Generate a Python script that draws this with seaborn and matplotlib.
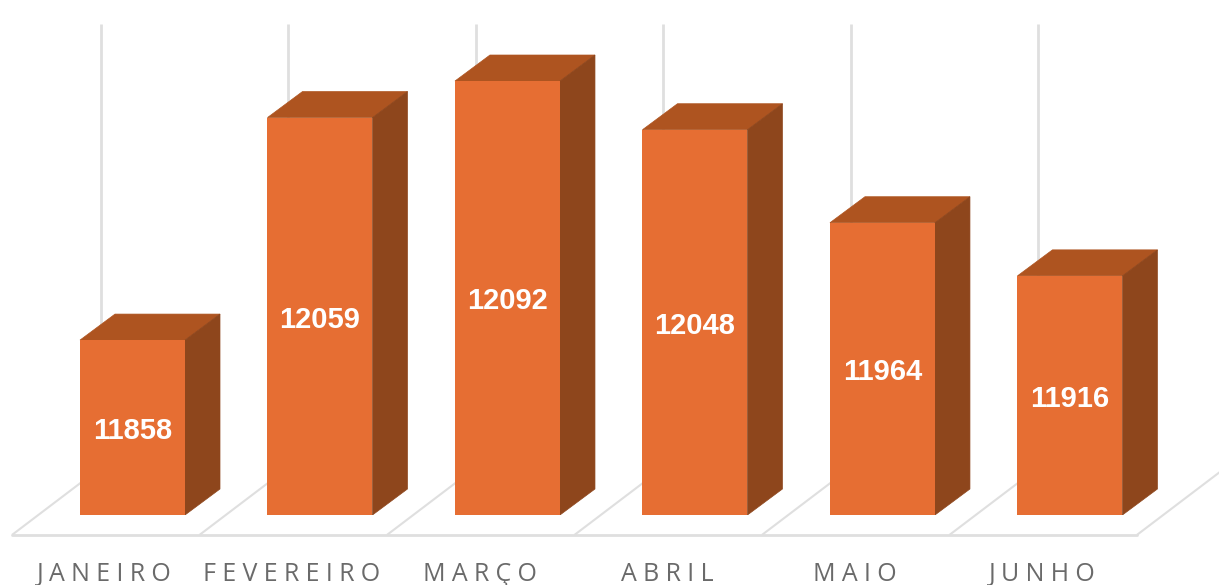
import matplotlib
matplotlib.use('Agg')
import matplotlib.pyplot as plt
import seaborn as sns
import pandas as pd

meses = ['JANEIRO', 'FEVEREIRO', 'MARÇO', 'ABRIL', 'MAIO', 'JUNHO']
valores = [11858, 12059, 12092, 12048, 11964, 11916]

COR_FRENTE = '#E66E33'
COR_TOPO = '#AE5420'
COR_LADO = '#8E461C'
COR_GRADE = '#DFDFDF'
COR_TEXTO = '#6A6A6A'

# profundidade do "3D" em unidades dos eixos
LARGURA = 0.56
PROF_X = 35 / 187.5
PROF_Y = 26 / 1.107

sns.set_theme(style='white')
plt.rcParams['font.family'] = ['Open Sans', 'DejaVu Sans']

df = pd.DataFrame({'mes': meses, 'valor': valores})

fig = plt.figure(figsize=(12.19, 5.85), dpi=100)
ax = fig.add_axes([0, 70 / 585, 1, 491 / 585])

sns.barplot(data=df, x='mes', y='valor', color=COR_FRENTE, saturation=1,
            width=LARGURA, linewidth=0, ax=ax, zorder=3.5)
barras = list(ax.patches)

ax.set_xlim(-0.7067, 5.795)
ax.set_ylim(11700, 12143.5)
ax.set_yticks([])
ax.set_xlabel('')
ax.set_ylabel('')
sns.despine(ax=ax, left=True, bottom=True, top=True, right=True)

# chao e linhas de grade atras das barras
base_frente = 11700 - 18
base_fundo = 11743
esq = -0.6427
fundo = -0.168
for i in range(7):
    ax.plot([i + esq, i + fundo], [base_frente, base_fundo], color=COR_GRADE,
            lw=1.5, clip_on=False, zorder=1, solid_capstyle='butt')
ax.plot([esq, 6 + esq], [base_frente, base_frente], color=COR_GRADE, lw=2,
        clip_on=False, zorder=1)
ax.vlines([i + fundo for i in range(6)], base_fundo, 12143.5, color=COR_GRADE,
          lw=2, zorder=1)

# faces de cima e do lado
for barra, valor in zip(barras, valores):
    x0 = barra.get_x()
    x1 = x0 + barra.get_width()
    ax.fill([x0, x0 + PROF_X, x1 + PROF_X, x1],
            [valor, valor + PROF_Y, valor + PROF_Y, valor],
            color=COR_TOPO, lw=0.5, zorder=3)
    ax.fill([x1, x1 + PROF_X, x1 + PROF_X, x1],
            [11700, 11700 + PROF_Y, valor + PROF_Y, valor],
            color=COR_LADO, lw=0.5, zorder=3.2)
    ax.text(x0 + barra.get_width() / 2, (valor + 11700) / 2 - 3, str(valor),
            color='white', ha='center', va='center', fontweight='bold',
            fontsize=21, family=['Liberation Sans', 'DejaVu Sans'], zorder=4)

# rotulos ficam alinhados com a grade, nao com a frente da barra
rotulos = ['\u2005'.join(m) for m in meses]
ax.set_xticks([i - 0.149 for i in range(6)])
ax.set_xticklabels(rotulos, fontsize=18, color=COR_TEXTO)
ax.tick_params(axis='x', length=0, pad=33.5)

fig.savefig('out.png', dpi=100, facecolor='white')
